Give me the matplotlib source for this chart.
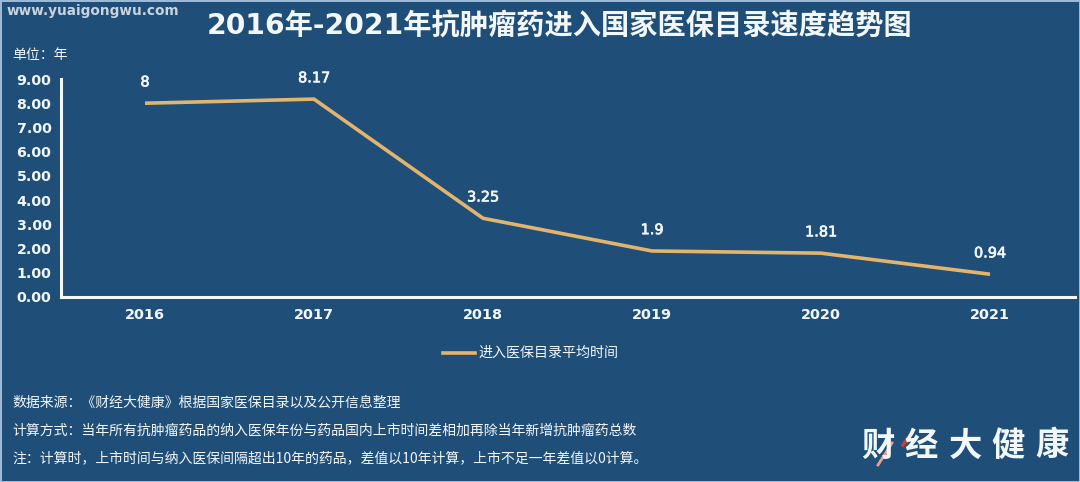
import matplotlib
matplotlib.use('Agg')
import matplotlib.pyplot as plt
import matplotlib.patheffects as pe

plt.rcParams['font.family'] = ['DejaVu Sans', 'Noto Sans CJK SC']

years = ['2016', '2017', '2018', '2019', '2020', '2021']
avg_time = [8, 8.17, 3.25, 1.9, 1.81, 0.94]
value_labels = ['8', '8.17', '3.25', '1.9', '1.81', '0.94']
y_ticks = [0, 1, 2, 3, 4, 5, 6, 7, 8, 9]

title = '2016年-2021年抗肿瘤药进入国家医保目录速度趋势图'
series_name = '进入医保目录平均时间'
notes = ['数据来源：《财经大健康》根据国家医保目录以及公开信息整理',
         '计算方式：当年所有抗肿瘤药品的纳入医保年份与药品国内上市时间差相加再除当年新增抗肿瘤药总数',
         '注：计算时，上市时间与纳入医保间隔超出10年的药品，差值以10年计算，上市不足一年差值以0计算。']
logo = '财经大健康'

W, H = 1080, 482
bg = '#1f4e79'
white = '#f2f7fa'
orange = '#e3b56c'
cjk = ['Noto Sans CJK SC', 'DejaVu Sans']

fig = plt.figure(figsize=(W / 100, H / 100), dpi=100, facecolor=bg)
ax = fig.add_axes([60.5 / W, 1 - 297 / H, 1014 / W, 218 / H], facecolor=bg)

ax.plot(range(6), avg_time, color=orange, lw=2.6, solid_capstyle='butt', solid_joinstyle='miter')
for i, v in enumerate(avg_time):
    t = ax.annotate(value_labels[i], (i, v), xytext=(0, 15), textcoords='offset points',
                    ha='center', va='center', color=white, fontsize=10.4)
    t.set_path_effects([pe.withStroke(linewidth=0.5, foreground=white)])

ax.set_xlim(-0.5, 5.5)
ax.set_ylim(0, 9)
ax.set_xticks(range(6))
ax.set_xticklabels(years, fontweight='bold')
ax.set_yticks(y_ticks)
ax.set_yticklabels(['%.2f' % t for t in y_ticks], fontweight='bold')
ax.tick_params(axis='x', length=0, pad=8, colors=white, labelsize=10.4)
ax.tick_params(axis='y', length=0, pad=6.5, colors=white, labelsize=10.2)
for side in ['top', 'right']:
    ax.spines[side].set_visible(False)
for side in ['left', 'bottom']:
    ax.spines[side].set_color(white)
    ax.spines[side].set_linewidth(2.2)

# legend drawn by hand so it sits where the original does
fig.add_artist(plt.Line2D([443 / W, 475 / W], [1 - 353 / H] * 2, color=orange, lw=2.6))
fig.text(478 / W, 1 - 353 / H, series_name, color=white, fontsize=10.1, va='center', family=cjk)

fig.text(560 / W, 1 - 26.5 / H, title, color=white, fontsize=20.3, fontweight='bold', ha='center', va='center')
fig.text(12 / W, 1 - 55 / H, '单位：年', color=white, fontsize=10, va='center', family=cjk)
fig.text(7 / W, 1 - 11 / H, 'www.yuaigongwu.com', color='#c8d4de', fontsize=9.8, fontweight='bold', va='center')

for y, note in zip([403, 431, 458], notes):
    fig.text(12 / W, 1 - y / H, note, color=white, fontsize=10, va='center', family=cjk)

# logo has wide letter spacing, so place the characters one at a time
for i, ch in enumerate(logo):
    fig.text((878 + i * 43.5) / W, 1 - 446 / H, ch, color=white, fontsize=24, fontweight='bold',
             ha='center', va='center', family=cjk)
fig.add_artist(plt.Line2D([878 / W, 892 / W], [1 - 465 / H, 1 - 443 / H], color='#e8a08c', lw=2))
fig.add_artist(plt.Line2D([903 / W, 912 / W], [1 - 445 / H, 1 - 433 / H], color='#d9382e', lw=2.5))

fig.patch.set_edgecolor('#9db9d6')
fig.patch.set_linewidth(2)
fig.savefig('out.png', dpi=100, facecolor=bg, edgecolor='#9db9d6')
